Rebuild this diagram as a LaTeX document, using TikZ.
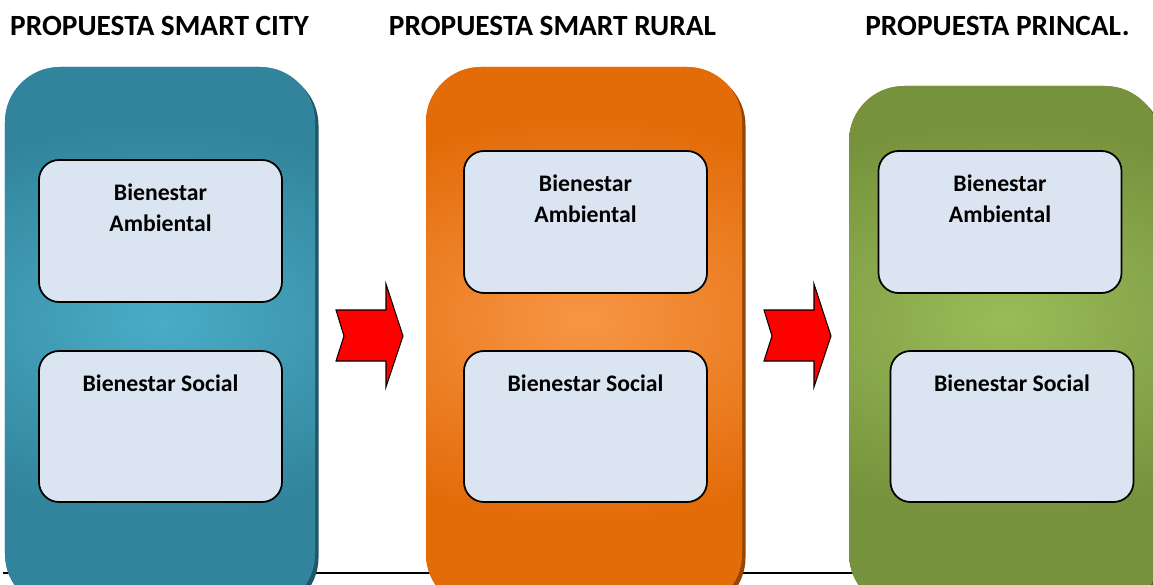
\documentclass[tikz,border=0pt]{standalone}
\usepackage{fontspec}
\setmainfont{Carlito}
\usetikzlibrary{positioning, shadows, calc}
\definecolor{CityEdge}{HTML}{31849B}
\definecolor{CityLight}{HTML}{4BACC6}
\definecolor{RuralEdge}{HTML}{E36C09}
\definecolor{RuralLight}{HTML}{F79646}
\definecolor{PrincEdge}{HTML}{76923C}
\definecolor{PrincLight}{HTML}{9BBB59}
\definecolor{BoxFill}{HTML}{DBE5F1}
% bandas claras de los paneles
\pgfdeclareradialshading{bandacity}{\pgfpointorigin}{color(0bp)=(CityLight); color(10bp)=(CityEdge); color(50bp)=(CityEdge)}
\pgfdeclareradialshading{bandarural}{\pgfpointorigin}{color(0bp)=(RuralLight); color(10bp)=(RuralEdge); color(50bp)=(RuralEdge)}
\pgfdeclareradialshading{bandaprinc}{\pgfpointorigin}{color(0bp)=(PrincLight); color(10bp)=(PrincEdge); color(50bp)=(PrincEdge)}
\tikzset{
  % Paneles grandes con banda clara
  panel/.style 2 args={rectangle, rounded corners=1.1cm, draw=none, fill=#1, inner sep=0,
    general shadow={fill=#1!65!black, shadow xshift=2pt, shadow yshift=-2pt},
    path picture={\shade[shading=#2]
      ($(path picture bounding box.center |- banda)+(-15.5,-10)$) rectangle
      ($(path picture bounding box.center |- banda)+(15.5,10)$);}},
  % Cajas internas
  caja/.style={rectangle, rounded corners=0.4cm, draw=black, line width=1pt,
    fill=BoxFill, minimum width=4.86cm, inner sep=0},
  texto/.style={font=\bfseries\fontsize{13.5}{17.6}\selectfont, align=center, inner sep=0},
  titulo/.style={font=\bfseries\fontsize{16.7}{20}\selectfont, inner sep=0},
  flecha/.style={fill=red, draw=black, line width=0.6pt, line join=miter}
}
\begin{document}
\begin{tikzpicture}
  \useasboundingbox (0,0) rectangle (23.06,11.68);
  \clip (0,0) rectangle (23.06,11.68);
  \coordinate (banda) at (0,5.28);
  % linea base
  \draw[line width=1pt] (0.06,0.22) -- (23.06,0.22);
  % titulos
  \node[titulo] (tcity) at (3.19,11.16) {PROPUESTA SMART CITY};
  \node[titulo] (trural) at (11.05,11.16) {PROPUESTA SMART RURAL};
  \node[titulo] (tprinc) at (19.95,11.16) {PROPUESTA PRINCAL.};
  % paneles
  \node[panel={CityEdge}{bandacity}, minimum width=6.2cm, minimum height=10.84cm] (city) at (3.2,4.92) {};
  \node[panel={RuralEdge}{bandarural}, minimum width=6.32cm, minimum height=10.84cm] (rural) at (11.68,4.92) {};
  \node[panel={PrincEdge}{bandaprinc}, minimum width=6.22cm, minimum height=10.46cm] (princ) at (20.09,4.73) {};
  % flechas
  \draw[flecha] (6.72,5.48) -- (7.72,5.48) -- (7.72,6.0) -- (8.06,4.96) -- (7.72,3.94)
    -- (7.72,4.46) -- (6.72,4.46) -- (6.88,4.96) -- cycle;
  \draw[flecha, shift={(8.56,0)}] (6.72,5.48) -- (7.72,5.48) -- (7.72,6.0) -- (8.06,4.96) -- (7.72,3.94)
    -- (7.72,4.46) -- (6.72,4.46) -- (6.88,4.96) -- cycle;
  % cajas internas
  \node[caja, minimum height=2.84cm] (amb1) at (3.21,7.06) {};
  \node[caja, minimum height=3.02cm] (soc1) at (3.21,3.15) {};
  \node[caja, minimum height=2.84cm] (amb2) at (11.71,7.24) {};
  \node[caja, minimum height=3.02cm] (soc2) at (11.71,3.15) {};
  \node[caja, minimum height=2.84cm] (amb3) at (20.0,7.24) {};
  \node[caja, minimum height=3.02cm] (soc3) at (20.24,3.15) {};
  \node[texto, below=0.49cm of amb1.north] (tamb1) {Bienestar\\Ambiental};
  \node[texto, below=0.49cm of soc1.north] (tsoc1) {Bienestar Social};
  \node[texto, below=0.49cm of amb2.north] (tamb2) {Bienestar\\Ambiental};
  \node[texto, below=0.49cm of soc2.north] (tsoc2) {Bienestar Social};
  \node[texto, below=0.49cm of amb3.north] (tamb3) {Bienestar\\Ambiental};
  \node[texto, below=0.49cm of soc3.north] (tsoc3) {Bienestar Social};
\end{tikzpicture}
\end{document}
